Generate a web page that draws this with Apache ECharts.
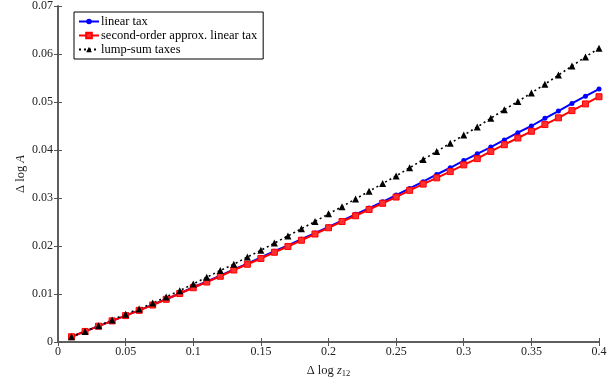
<!DOCTYPE html>
<html>
<head>
<meta charset="utf-8">
<script src="https://cdn.jsdelivr.net/npm/echarts@6/dist/echarts.min.js"></script>
<style>
  html, body { margin: 0; padding: 0; background: #fff; }
  #chart { width: 616px; height: 383px; }
</style>
</head>
<body>
<div id="chart"></div>
<script>
// x values: Δ log z12
var dz = [0.01, 0.02, 0.03, 0.04, 0.05, 0.06, 0.07, 0.08, 0.09, 0.10,
          0.11, 0.12, 0.13, 0.14, 0.15, 0.16, 0.17, 0.18, 0.19, 0.20,
          0.21, 0.22, 0.23, 0.24, 0.25, 0.26, 0.27, 0.28, 0.29, 0.30,
          0.31, 0.32, 0.33, 0.34, 0.35, 0.36, 0.37, 0.38, 0.39, 0.40];

var linearTax = [0.0011, 0.0022, 0.0033, 0.0044, 0.0055, 0.0066, 0.0078, 0.0089, 0.0101, 0.0114,
                 0.0126, 0.0138, 0.0151, 0.0163, 0.0176, 0.0189, 0.0201, 0.0214, 0.0227, 0.0240,
                 0.0253, 0.0266, 0.0279, 0.0292, 0.0306, 0.0320, 0.0334, 0.0349, 0.0363, 0.0378,
                 0.0392, 0.0406, 0.0421, 0.0436, 0.0450, 0.0466, 0.0481, 0.0497, 0.0512, 0.0527];

var secondOrder = [0.0011, 0.0022, 0.0033, 0.0044, 0.0055, 0.0066, 0.0077, 0.0089, 0.0101, 0.0113,
                   0.0125, 0.0137, 0.0150, 0.0162, 0.0174, 0.0187, 0.0199, 0.0212, 0.0225, 0.0238,
                   0.0251, 0.0263, 0.0276, 0.0289, 0.0302, 0.0316, 0.0329, 0.0342, 0.0355, 0.0369,
                   0.0382, 0.0397, 0.0411, 0.0425, 0.0439, 0.0453, 0.0467, 0.0482, 0.0496, 0.0511];

var lumpSum = [0.0011, 0.0022, 0.0034, 0.0046, 0.0058, 0.0069, 0.0081, 0.0094, 0.0107, 0.0121,
               0.0135, 0.0149, 0.0162, 0.0177, 0.0191, 0.0206, 0.0221, 0.0236, 0.0251, 0.0267,
               0.0282, 0.0298, 0.0314, 0.0330, 0.0346, 0.0363, 0.0380, 0.0397, 0.0414, 0.0431,
               0.0448, 0.0466, 0.0484, 0.0501, 0.0519, 0.0537, 0.0556, 0.0575, 0.0594, 0.0612];

function pairs(xs, ys) {
  return xs.map(function (x, i) { return [x, ys[i]]; });
}

var font = 'Liberation Serif';
var axisCol = '#555';

var chart = echarts.init(document.getElementById('chart'));
chart.setOption({
  animation: false,
  textStyle: { fontFamily: font },
  grid: { left: 58, right: 17, top: 2, bottom: 39 },
  legend: {
    orient: 'vertical',
    left: 74, top: 12,
    padding: [3, 6, 3, 4],
    itemGap: 1,
    itemWidth: 20, itemHeight: 7,
    borderColor: '#000', borderWidth: 1,
    backgroundColor: '#fff',
    textStyle: { fontFamily: font, fontSize: 12.5, color: '#000', padding: [0, 0, 0, -3] },
    data: ['linear tax', 'second-order approx. linear tax', 'lump-sum taxes']
  },
  xAxis: [{
    type: 'value', min: 0, max: 0.4, interval: 0.05,
    name: '{d|Δ log }{i|z}{s|12}',
    nameLocation: 'middle', nameGap: 21, nameMoveOverlap: false,
    nameTextStyle: {
      rich: {
        d: { fontFamily: font, fontSize: 12.5, color: '#222' },
        i: { fontFamily: font, fontSize: 12.5, fontStyle: 'italic', color: '#222' },
        s: { fontFamily: font, fontSize: 8.5, color: '#222', verticalAlign: 'bottom', padding: [6, 0, 0, 0] }
      }
    },
    axisLine: { lineStyle: { color: axisCol, width: 1.5 } },
    axisTick: { inside: true, length: 4, lineStyle: { color: axisCol } },
    axisLabel: { fontFamily: font, fontSize: 12, color: '#222', margin: 4 },
    splitLine: { show: false }
  }, {
    type: 'value', min: 0, max: 0.4, interval: 0.05, position: 'top',
    axisLine: { lineStyle: { color: axisCol, width: 1.5 } },
    axisTick: { inside: true, length: 4, lineStyle: { color: axisCol } },
    axisLabel: { show: false },
    splitLine: { show: false }
  }],
  yAxis: [{
    type: 'value', min: 0, max: 0.07, interval: 0.01,
    name: '{d|Δ log }{i|A}',
    nameLocation: 'middle', nameGap: 31, nameMoveOverlap: false,
    nameTextStyle: {
      rich: {
        d: { fontFamily: font, fontSize: 12.5, color: '#222' },
        i: { fontFamily: font, fontSize: 12.5, fontStyle: 'italic', color: '#222' }
      }
    },
    axisLine: { lineStyle: { color: axisCol, width: 1.5 } },
    axisTick: { inside: true, length: 4, lineStyle: { color: axisCol } },
    axisLabel: { fontFamily: font, fontSize: 12, color: '#222', margin: 5 },
    splitLine: { show: false }
  }, {
    type: 'value', min: 0, max: 0.07, interval: 0.01, position: 'right',
    axisLine: { lineStyle: { color: axisCol, width: 1.5 } },
    axisTick: { inside: true, length: 4, lineStyle: { color: axisCol } },
    axisLabel: { show: false },
    splitLine: { show: false }
  }],
  series: [{
    name: 'linear tax',
    type: 'line',
    data: pairs(dz, linearTax),
    symbol: 'circle', symbolSize: 5,
    lineStyle: { color: '#0000ff', width: 2 },
    itemStyle: { color: '#0000ff' }
  }, {
    name: 'second-order approx. linear tax',
    type: 'line',
    data: pairs(dz, secondOrder),
    symbol: 'rect', symbolSize: 6,
    lineStyle: { color: '#ff0000', width: 2 },
    itemStyle: { color: '#ff3030', borderColor: '#ff0000', borderWidth: 1 }
  }, {
    name: 'lump-sum taxes',
    type: 'line',
    data: pairs(dz, lumpSum),
    symbol: 'triangle', symbolSize: 7,
    lineStyle: { color: '#000', width: 1.6, type: [2, 3] },
    itemStyle: { color: '#000' }
  }]
});
</script>
</body>
</html>
